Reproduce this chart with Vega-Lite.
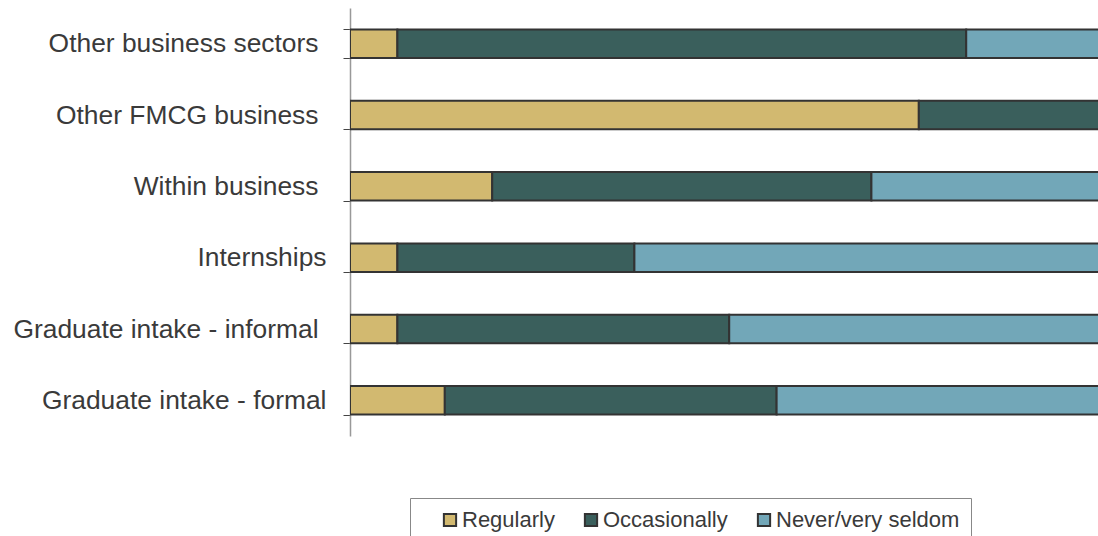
{
  "$schema": "https://vega.github.io/schema/vega-lite/v6.json",
  "autosize": "none",
  "width": 748,
  "height": 428,
  "padding": {"left": 350, "top": 8, "right": 0, "bottom": 100},
  "background": "white",
  "config": {"view": {"stroke": null}, "font": "Liberation Sans"},
  "data": {
    "values": [
      {"area": "Other business sectors", "series": "Regularly", "count": 1},
      {"area": "Other business sectors", "series": "Occasionally", "count": 12},
      {"area": "Other business sectors", "series": "Never/very seldom", "count": 8},
      {"area": "Other FMCG business", "series": "Regularly", "count": 12},
      {"area": "Other FMCG business", "series": "Occasionally", "count": 9},
      {"area": "Other FMCG business", "series": "Never/very seldom", "count": 0},
      {"area": "Within business", "series": "Regularly", "count": 3},
      {"area": "Within business", "series": "Occasionally", "count": 8},
      {"area": "Within business", "series": "Never/very seldom", "count": 10},
      {"area": "Internships", "series": "Regularly", "count": 1},
      {"area": "Internships", "series": "Occasionally", "count": 5},
      {"area": "Internships", "series": "Never/very seldom", "count": 15},
      {"area": "Graduate intake - informal", "series": "Regularly", "count": 1},
      {"area": "Graduate intake - informal", "series": "Occasionally", "count": 7},
      {"area": "Graduate intake - informal", "series": "Never/very seldom", "count": 13},
      {"area": "Graduate intake - formal", "series": "Regularly", "count": 2},
      {"area": "Graduate intake - formal", "series": "Occasionally", "count": 7},
      {"area": "Graduate intake - formal", "series": "Never/very seldom", "count": 12}
    ]
  },
  "mark": {"type": "bar", "stroke": "#333333", "strokeWidth": 2, "clip": true},
  "encoding": {
    "y": {
      "field": "area",
      "type": "nominal",
      "sort": ["Other business sectors", "Other FMCG business", "Within business", "Internships", "Graduate intake - informal", "Graduate intake - formal"],
      "scale": {"paddingInner": 0.6, "paddingOuter": 0.3},
      "axis": {
        "title": null,
        "tickBand": "extent",
        "tickSize": 7,
        "tickColor": "#444444",
        "domainColor": "#999999",
        "domainWidth": 1.5,
        "labelFontSize": 26.4,
        "labelColor": "#3a3a3a",
        "labelPadding": {
          "condition": {"test": "datum.value === 'Internships' || datum.value === 'Graduate intake - formal'", "value": 17},
          "value": 25
        },
        "labelLimit": 400
      }
    },
    "x": {
      "field": "count",
      "type": "quantitative",
      "stack": "zero",
      "scale": {"domain": [0, 15.78], "nice": false, "zero": true},
      "axis": null
    },
    "color": {
      "field": "series",
      "type": "nominal",
      "scale": {
        "domain": ["Regularly", "Occasionally", "Never/very seldom"],
        "range": ["#D2B970", "#3A5F5C", "#72A7B8"]
      },
      "legend": {
        "title": null,
        "orient": "none",
        "direction": "horizontal",
        "legendX": 60,
        "legendY": 490,
        "padding": 11,
        "symbolOffset": 18,
        "strokeColor": "#888888",
        "symbolType": "square",
        "symbolSize": 150,
        "symbolStrokeColor": "#333333",
        "symbolStrokeWidth": 2,
        "labelFontSize": 22,
        "labelColor": "#3a3a3a",
        "labelOffset": 1,
        "columnPadding": 7,
        "labelLimit": 400
      }
    },
    "order": {"field": "series", "sort": "descending"}
  }
}
